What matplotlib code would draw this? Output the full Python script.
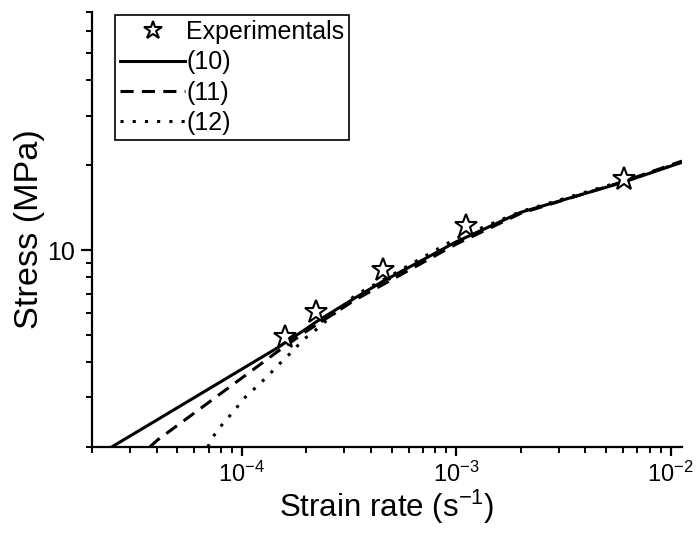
import matplotlib
matplotlib.use("Agg")
import matplotlib.pyplot as plt
from matplotlib.ticker import LogLocator, NullFormatter, FuncFormatter

plt.rcParams['font.family'] = ['Liberation Sans', 'DejaVu Sans']
plt.rcParams['mathtext.fontset'] = 'custom'
plt.rcParams['mathtext.rm'] = 'Liberation Sans'
plt.rcParams['mathtext.it'] = 'Liberation Sans'
plt.rcParams['mathtext.default'] = 'regular'
plt.rcParams['axes.unicode_minus'] = False

# --- dane ---
strain_exp = [1.59e-4, 2.21e-4, 4.53e-4, 1.11e-3, 6.03e-3]
stress_exp = [4.91, 6.04, 8.49, 12.17, 17.9]

strain_10 = [2.47e-5, 4e-5, 1e-4, 1.46e-4, 2e-4, 2.22e-4, 3.37e-4, 4.5e-4, 1e-3, 1.99e-3, 3e-3, 6e-3, 1.13e-2]
stress_10 = [2.0, 2.49, 3.78, 4.49, 5.26, 5.56, 6.76, 7.71, 10.7, 13.6, 14.9, 17.4, 20.5]

strain_11 = [3.72e-5, 4.05e-5, 6e-5, 1.09e-4, 1.46e-4, 2e-4, 3.37e-4, 1e-3, 2e-3, 6e-3, 1.13e-2]
stress_11 = [2.0, 2.12, 2.64, 3.69, 4.35, 5.15, 6.65, 10.5, 13.5, 17.5, 20.7]

strain_12 = [6.94e-5, 7.32e-5, 8.15e-5, 9.18e-5, 1.02e-4, 1.16e-4, 1.32e-4, 1.51e-4, 1.71e-4,
             1.93e-4, 2.24e-4, 3.37e-4, 5.42e-4, 1e-3, 2e-3, 6e-3, 1.13e-2]
stress_12 = [2.0, 2.17, 2.42, 2.68, 2.97, 3.25, 3.57, 3.97, 4.35,
             4.8, 5.25, 6.9, 8.44, 11.0, 13.7, 17.6, 20.5]

fig = plt.figure(figsize=(6.96, 5.34), dpi=100)
ax = fig.add_axes([92 / 696, 87 / 534, 590 / 696, 435 / 534])

ax.plot(strain_exp, stress_exp, linestyle='none', marker='*', markersize=17,
        markerfacecolor='white', markeredgecolor='black', markeredgewidth=1.5,
        label='Experimentals', zorder=5)
ax.plot(strain_10, stress_10, color='black', lw=2.2, label='(10)')
ax.plot(strain_11, stress_11, color='black', lw=2.2, linestyle=(0, (4.3, 2.7)), label='(11)')
ax.plot(strain_12, stress_12, color='black', lw=2.2, linestyle=(0, (1, 3)), label='(12)')

ax.set_xscale('log')
ax.set_yscale('log')
ax.set_xlim(2e-5, 1.13e-2)
ax.set_ylim(2, 70)

# --- osie i ticki ---
for s in ['top', 'right']:
    ax.spines[s].set_visible(False)
for s in ['left', 'bottom']:
    ax.spines[s].set_linewidth(1.6)

ax.yaxis.set_major_locator(LogLocator(base=10, subs=(1.0,)))
ax.yaxis.set_minor_locator(LogLocator(base=10, subs=range(2, 10)))
ax.yaxis.set_major_formatter(FuncFormatter(lambda v, p: f"{v:g}"))
ax.yaxis.set_minor_formatter(NullFormatter())
ax.xaxis.set_minor_locator(LogLocator(base=10, subs=range(2, 10)))
ax.xaxis.set_minor_formatter(NullFormatter())

ax.tick_params(which='minor', direction='out', length=4, width=1.4)
ax.tick_params(axis='y', which='major', direction='out', length=8, width=1.6,
               labelsize=18, pad=4)
ax.tick_params(axis='x', which='major', direction='out', length=6.5, width=1.6,
               labelsize=17, pad=4)

ax.set_xlabel('Strain rate (s$^{-1}$)', fontsize=22.5, labelpad=1)
ax.set_ylabel('Stress (MPa)', fontsize=24.7, labelpad=2)

leg = ax.legend(loc='upper left', bbox_to_anchor=(0.039, 0.993), borderaxespad=0,
                fontsize=18, handlelength=2.6, handletextpad=0.05, borderpad=0.2,
                labelspacing=0.25, markerscale=0.8, fancybox=False, framealpha=1,
                edgecolor='black')
leg.get_frame().set_linewidth(1.2)

fig.savefig('out.png', dpi=100)
